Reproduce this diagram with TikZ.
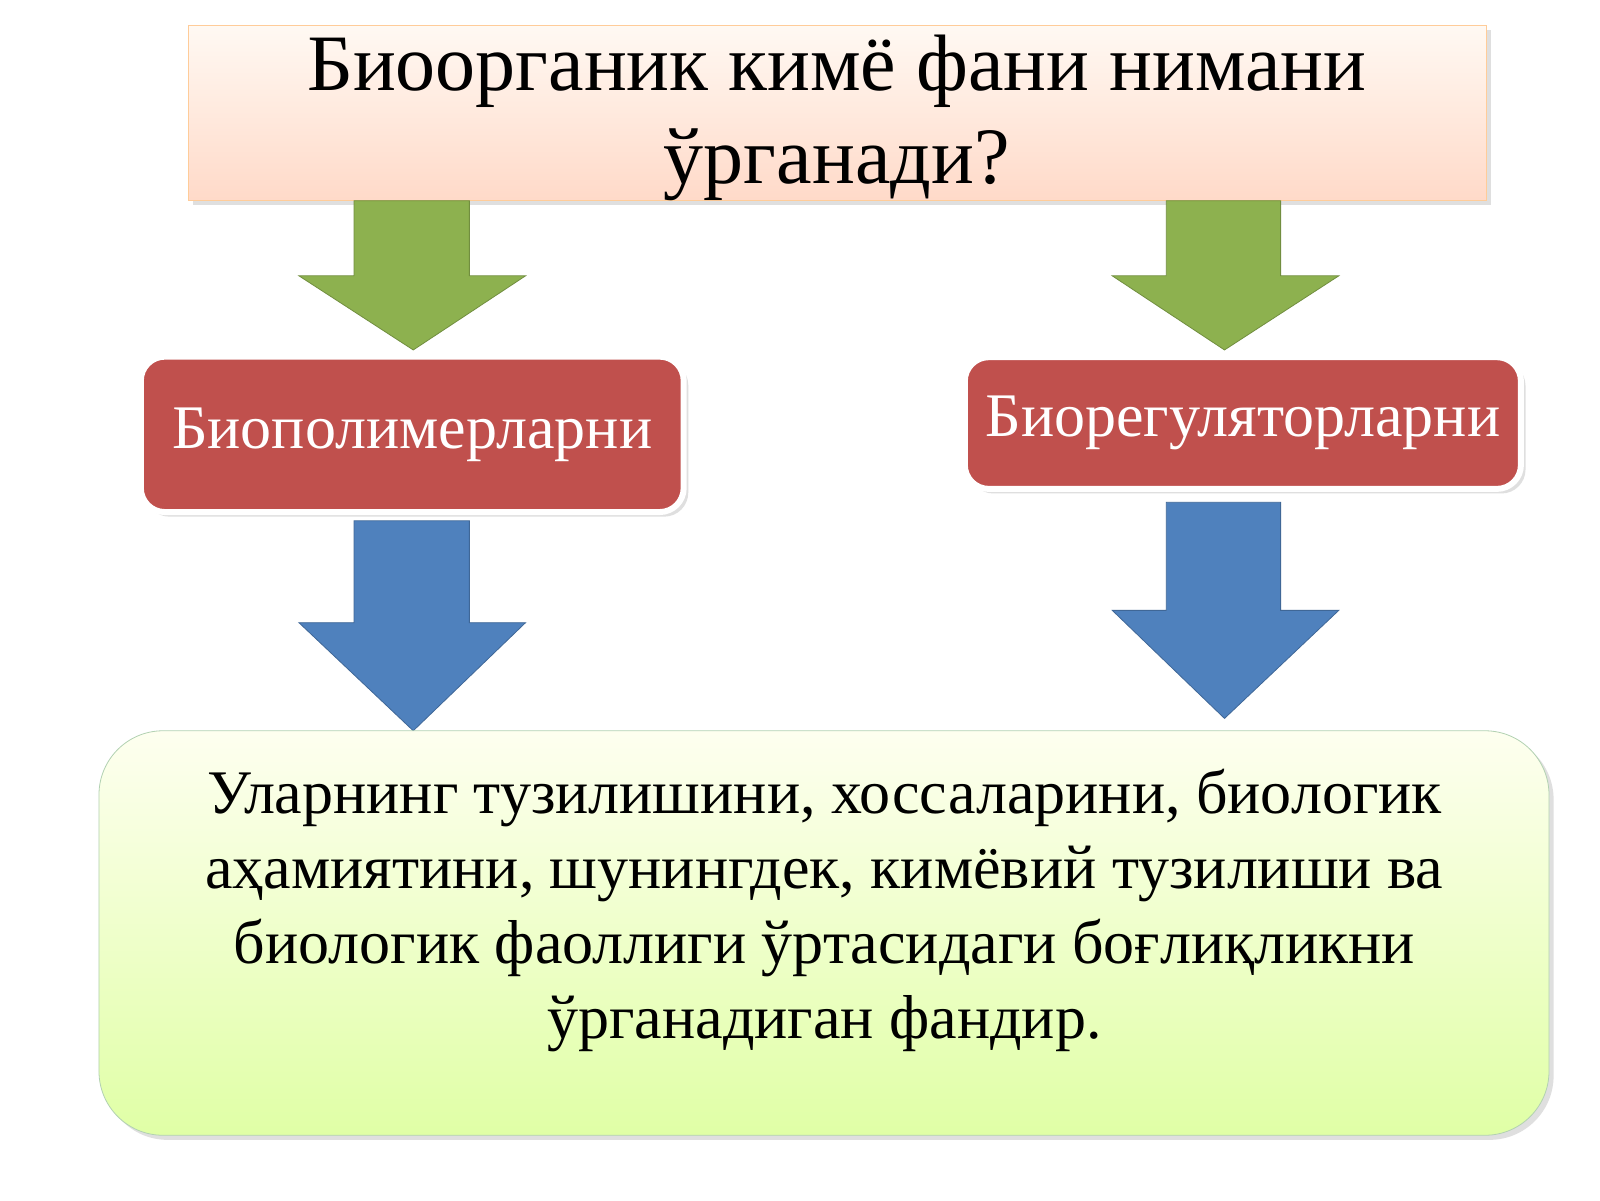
\documentclass[tikz,border=0pt]{standalone}
\usepackage{fontspec}
\setmainfont{Liberation Serif}
\usetikzlibrary{shadows}
\definecolor{redbox}{HTML}{C0504D}
\definecolor{garrow}{HTML}{8DB14F}
\definecolor{barrow}{HTML}{4F81BD}
\tikzset{
  redstep/.style={draw=white,line width=3pt,fill=redbox,rounded corners=12pt,text=white,font=\fontsize{31}{36}\selectfont,drop shadow={opacity=0.25},inner sep=0pt},
  garr/.style={fill=garrow,draw=garrow!80!black,line width=0.4pt},
  barr/.style={fill=barrow,draw=barrow!80!black,line width=0.4pt},
}
\begin{document}
\begin{tikzpicture}[x=0.5102pt,y=-0.5146pt]
\useasboundingbox (0,0) rectangle (1568,1166);
\fill[white] (0,0) rectangle (1568,1166);
% title
\shade[top color=white!40!orange!8,bottom color=orange!30!pink!45,draw=orange!40,drop shadow={opacity=0.25}] (185,25) rectangle (1457,195);
\node[font=\fontsize{40}{46.5}\selectfont,align=center] (title) at (820,115) {Биоорганик кимё фани нимани\\ ўрганади?};
% green arrows
\draw[garr] (347,195) -- (460,195) -- (460,268) -- (515,268) -- (405,340) -- (293,268) -- (347,268) -- cycle;
\draw[garr] (1143,195) -- (1255,195) -- (1255,268) -- (1312,268) -- (1200,340) -- (1090,268) -- (1143,268) -- cycle;
% red boxes
\node[redstep,minimum width=532*0.5102pt,minimum height=151*0.5146pt] (bp) at (404,422) {Биополимерларни};
\node[redstep,minimum width=545*0.5102pt,minimum height=128*0.5146pt] (br) at (1218,411) {Биорегуляторларни};
% blue arrows
\draw[barr] (347,506) -- (460,506) -- (460,605) -- (515,605) -- (405,710) -- (293,605) -- (347,605) -- cycle;
\draw[barr] (1143,488) -- (1255,488) -- (1255,593) -- (1312,593) -- (1200,698) -- (1090,593) -- (1143,593) -- cycle;
% bottom box
\shade[top color=green!8!yellow!6,bottom color=green!35!yellow!35,draw=green!40!black!30,rounded corners=32pt,drop shadow={opacity=0.25}] (97,710) rectangle (1518,1103);
\node[font=\fontsize{31}{37.5}\selectfont,align=center] (desc) at (808,885) {Уларнинг тузилишини, хоссаларини, биологик\\ аҳамиятини, шунингдек, кимёвий тузилиши ва\\ биологик фаоллиги ўртасидаги боғлиқликни\\ ўрганадиган фандир.};
\end{tikzpicture}
\end{document}
